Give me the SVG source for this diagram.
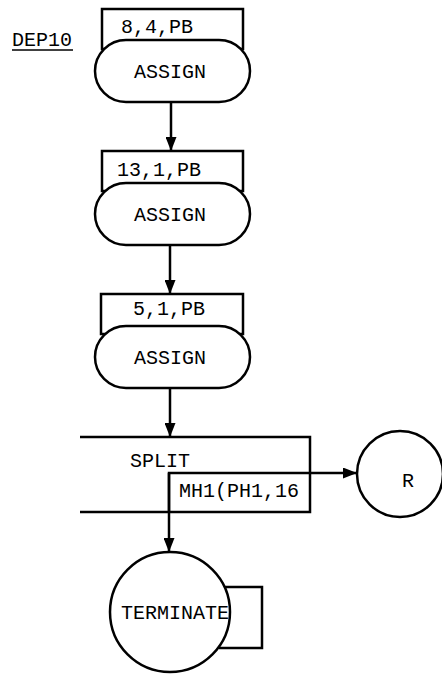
<svg xmlns="http://www.w3.org/2000/svg" width="442" height="675" viewBox="0 0 442 675">
<defs>
<style>
.ln{fill:none;stroke:#000;stroke-width:2.5}
.sh{fill:#fff;stroke:#000;stroke-width:2.5}
.t{font-family:"Liberation Mono","DejaVu Sans Mono",monospace;font-size:20px;fill:#000}
.m{text-anchor:middle}
</style>
<marker id="ah" markerWidth="14" markerHeight="11" refX="14" refY="5.5" orient="auto" markerUnits="userSpaceOnUse">
<path d="M0,0 L14,5.5 L0,11 Z" fill="#000"/>
</marker>
</defs>
<rect width="442" height="675" fill="#fff"/>
<g id="title">
<text class="t" x="12" y="46">DEP10</text>
<line x1="12" y1="50" x2="73" y2="50" stroke="#000" stroke-width="1.5"/>
</g>
<g id="connectors">
<line class="ln" x1="171" y1="102" x2="171" y2="151" marker-end="url(#ah)"/>
<line class="ln" x1="170" y1="245" x2="170" y2="294" marker-end="url(#ah)"/>
<line class="ln" x1="170" y1="388" x2="170" y2="437" marker-end="url(#ah)"/>
<line class="ln" x1="310" y1="473" x2="357" y2="473" marker-end="url(#ah)"/>
<line class="ln" x1="169" y1="473" x2="169" y2="552" marker-end="url(#ah)"/>
<path class="ln" d="M225,587 H262 V648 H219"/>
</g>
<g id="assign1">
<rect class="ln" x="102" y="9" width="141" height="40"/>
<text class="t" x="121" y="33">8,4,PB</text>
<rect class="sh" x="95" y="40" width="155" height="62" rx="31" ry="31"/>
<text class="t m" x="170" y="78">ASSIGN</text>
</g>
<g id="assign2">
<rect class="ln" x="102" y="151" width="141" height="40"/>
<text class="t" x="117" y="176">13,1,PB</text>
<rect class="sh" x="95" y="183" width="155" height="62" rx="31" ry="31"/>
<text class="t m" x="170" y="221">ASSIGN</text>
</g>
<g id="assign3">
<rect class="ln" x="101" y="294" width="142" height="40"/>
<text class="t" x="133" y="315">5,1,PB</text>
<rect class="sh" x="95" y="326" width="155" height="62" rx="31" ry="31"/>
<text class="t m" x="170" y="364">ASSIGN</text>
</g>
<g id="split">
<path class="ln" d="M80,437 H310 V512 H80"/>
<text class="t m" x="160" y="467">SPLIT</text>
<path class="ln" d="M169,512 V473 H310"/>
<text class="t" x="179" y="497">MH1(PH1,16</text>
</g>
<g id="r">
<circle class="sh" cx="400" cy="474" r="43"/>
<text class="t m" x="408" y="487">R</text>
</g>
<g id="terminate">
<circle class="sh" cx="170" cy="612" r="60"/>
<text class="t m" x="175" y="619">TERMINATE</text>
</g>
</svg>
